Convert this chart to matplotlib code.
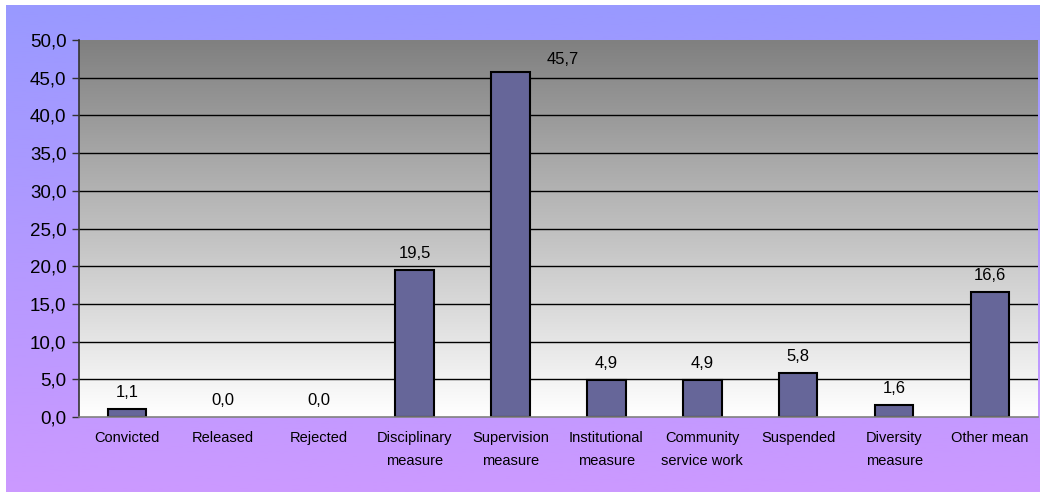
import numpy as np
import matplotlib
matplotlib.use("Agg")
from matplotlib import pyplot as plt
from matplotlib.colors import LinearSegmentedColormap

# data
categories = ["Convicted", "Released", "Rejected", "Disciplinary\nmeasure",
              "Supervision\nmeasure", "Institutional\nmeasure",
              "Community\nservice work", "Suspended", "Diversity\nmeasure",
              "Other mean"]
values = [1.1, 0.0, 0.0, 19.5, 45.7, 4.9, 4.9, 5.8, 1.6, 16.6]
y_ticks = [0, 5, 10, 15, 20, 25, 30, 35, 40, 45, 50]

plt.rcParams['font.family'] = ['Liberation Sans', 'DejaVu Sans']

fig = plt.figure(figsize=(10.43, 4.93), dpi=100)
fig.patch.set_facecolor("white")

# outer gradient background (blue top -> purple bottom)
bg = fig.add_axes([6/1043, 1/493, 1034/1043, 487/493], zorder=0)
bg_cmap = LinearSegmentedColormap.from_list("bg", ["#CC99FF", "#9999FF"])
bg.imshow(np.linspace(0, 1, 256).reshape(-1, 1)[::-1], cmap=bg_cmap,
          aspect="auto", extent=[0, 1, 0, 1])
bg.axis("off")

ax = fig.add_axes([79/1043, 1 - 417/493, (1038 - 79)/1043, (417 - 40)/493], zorder=1)
x = np.arange(len(categories))

# plot area gradient (gray top -> white bottom)
pa_cmap = LinearSegmentedColormap.from_list("pa", ["#FFFFFF", "#808080"])
ax.imshow(np.linspace(0, 1, 256).reshape(-1, 1)[::-1], cmap=pa_cmap,
          aspect="auto", extent=[-0.5, len(categories) - 0.5, 0, 50], zorder=0)

for t in y_ticks[1:-1]:
    ax.axhline(t, color="black", lw=1, zorder=1)

# zero bars get no outline so nothing shows
lws = [1.5 if v > 0 else 0 for v in values]
ax.bar(x, values, width=0.4, color="#666699", edgecolor="black", linewidth=lws, zorder=2)

for i, v in enumerate(values):
    lbl = "{:.1f}".format(v).replace(".", ",")
    if v > 45:
        ax.annotate(lbl, (i, v), xytext=(36, 5), textcoords="offset pixels",
                    ha="left", va="bottom", fontsize=12)
    else:
        ax.annotate(lbl, (i, v), xytext=(0, 9), textcoords="offset pixels",
                    ha="center", va="bottom", fontsize=12)

ax.set_xlim(-0.5, len(categories) - 0.5)
ax.set_ylim(0, 50)
ax.set_yticks(y_ticks)
ax.set_yticklabels(["{:.1f}".format(t).replace(".", ",") for t in y_ticks], fontsize=13.5)
ax.set_xticks(x)
ax.set_xticklabels(categories, fontsize=10.5, linespacing=1.8)
ax.tick_params(axis="x", length=0, pad=10)
ax.tick_params(axis="y", length=5, width=1, color="#333333", pad=4)

for s in ["top", "right"]:
    ax.spines[s].set_visible(False)
ax.spines["left"].set_color("#333333")
ax.spines["left"].set_linewidth(1.2)
ax.spines["bottom"].set_color("#808080")
ax.spines["bottom"].set_linewidth(1.2)

fig.savefig("out.png", dpi=100, facecolor=fig.get_facecolor())
